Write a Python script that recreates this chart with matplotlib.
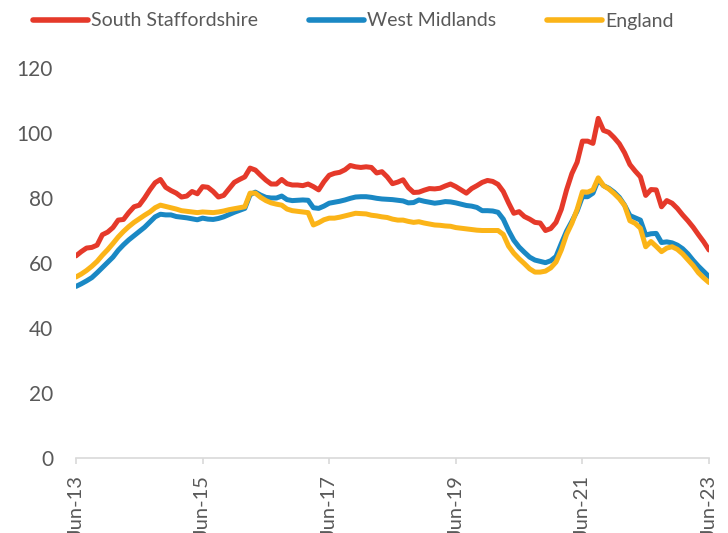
import numpy as np
import pandas as pd
import matplotlib
matplotlib.use('Agg')
from matplotlib import pyplot as plt

plt.rcParams['font.family'] = ['Lato', 'DejaVu Sans']

# monthly series, Jun-13 to Jun-23
months = pd.date_range("2013-06-01", periods=121, freq="MS")

south_staffs = [62.2, 63.5, 64.6, 64.8, 65.5, 68.7, 69.5, 70.9, 73.2, 73.4,
                75.5, 77.3, 77.8, 80.0, 82.5, 84.7, 85.7, 83.3, 82.3, 81.5,
                80.3, 80.6, 82.0, 81.3, 83.5, 83.3, 82.0, 80.3, 80.8, 82.8,
                84.8, 85.7, 86.5, 89.2, 88.6, 87.0, 85.5, 84.3, 84.3, 85.7,
                84.4, 84.0, 84.0, 83.8, 84.3, 83.5, 82.5, 85.0, 87.0, 87.6,
                87.9, 88.7, 90.0, 89.6, 89.4, 89.6, 89.4, 87.7, 88.1, 86.5,
                84.4, 84.9, 85.6, 83.2, 81.7, 81.8, 82.4, 82.9, 82.8, 83.0,
                83.7, 84.3, 83.5, 82.5, 81.5, 82.9, 83.8, 84.8, 85.4, 85.1,
                84.2, 82.0, 78.5, 75.3, 75.8, 74.3, 73.5, 72.5, 72.3, 70.0,
                70.6, 72.5, 76.5, 82.5, 87.5, 91.0, 97.5, 97.5, 96.8, 104.5,
                100.8, 100.2, 98.6, 96.7, 93.9, 90.3, 88.3, 86.5, 80.8, 82.6,
                82.5, 77.3, 79.2, 78.4, 76.8, 74.8, 73.0, 71.0, 68.7, 66.5,
                64.0]

west_midlands = [52.8, 53.6, 54.5, 55.5, 57.0, 58.6, 60.2, 61.8, 63.9, 65.6,
                 67.1, 68.4, 69.7, 71.0, 72.6, 74.2, 75.0, 74.8, 74.8, 74.3,
                 74.1, 73.9, 73.6, 73.3, 73.8, 73.5, 73.4, 73.7, 74.2, 74.9,
                 75.6, 76.2, 76.8, 81.0, 81.8, 80.9, 80.2, 80.0, 80.0, 80.6,
                 79.5, 79.2, 79.3, 79.4, 79.3, 77.0, 76.8, 77.5, 78.4, 78.7,
                 79.0, 79.4, 79.9, 80.3, 80.4, 80.4, 80.2, 79.9, 79.7, 79.6,
                 79.5, 79.3, 79.1, 78.5, 78.6, 79.4, 79.0, 78.7, 78.4, 78.6,
                 78.9, 78.8, 78.5, 78.1, 77.7, 77.5, 77.1, 76.1, 76.1, 76.0,
                 75.6, 73.5, 70.0, 67.0, 64.9, 63.3, 61.8, 60.9, 60.5, 60.1,
                 60.7, 62.0, 66.0, 69.8, 72.8, 76.0, 80.4, 80.4, 81.5, 85.6,
                 83.8, 83.0, 81.8, 80.2, 77.8, 74.6, 73.9, 73.2, 68.6, 69.0,
                 69.1, 66.3, 66.5, 66.2, 65.5, 64.4, 62.8, 60.8, 59.0, 57.4,
                 55.8]

england = [55.7, 56.6, 57.7, 59.0, 60.5, 62.4, 64.1, 66.0, 68.0, 69.7,
           71.2, 72.5, 73.6, 74.7, 75.7, 77.0, 77.8, 77.4, 77.0, 76.6,
           76.1, 75.9, 75.7, 75.5, 75.7, 75.6, 75.5, 75.7, 76.0, 76.4,
           76.7, 77.0, 77.3, 81.5, 81.5, 80.2, 79.2, 78.5, 78.1, 77.8,
           76.6, 76.1, 75.9, 75.7, 75.5, 71.7, 72.4, 73.3, 73.8, 73.8,
           74.1, 74.5, 74.9, 75.3, 75.2, 75.1, 74.7, 74.5, 74.2, 74.0,
           73.5, 73.2, 73.2, 72.8, 72.5, 72.7, 72.3, 72.0, 71.7, 71.6,
           71.4, 71.3, 70.9, 70.7, 70.5, 70.3, 70.1, 70.0, 70.0, 70.0,
           70.0, 68.8, 65.2, 63.0, 61.3, 59.8, 58.2, 57.2, 57.2, 57.5,
           58.5, 60.3, 64.0, 68.8, 72.2, 76.5, 81.9, 81.8, 82.5, 86.2,
           83.8, 82.8, 81.4, 79.8, 77.7, 73.0, 72.2, 70.7, 65.0, 66.6,
           65.1, 63.5, 64.6, 65.0, 64.2, 62.8, 61.0, 59.2, 57.0, 55.4,
           54.0]

tick_pos = [0, 24, 48, 72, 96, 120]
tick_labels = ["Jun-13", "Jun-15", "Jun-17", "Jun-19", "Jun-21", "Jun-23"]

fig = plt.figure(figsize=(7.28, 5.33), dpi=100)
ax = fig.add_axes([76/728, 1-458/533, 633/728, 390/533])

x = np.arange(len(months))
ax.plot(x, south_staffs, color="#E5392A", lw=3.6, label="South Staffordshire", solid_capstyle="round")
ax.plot(x, west_midlands, color="#1A88C4", lw=3.6, label="West Midlands", solid_capstyle="round")
ax.plot(x, england, color="#FBB418", lw=3.6, label="England", solid_capstyle="round")

ax.set_xlim(0, 120)
ax.set_ylim(0, 120)
ax.set_yticks(range(0, 121, 20))
ax.set_xticks(tick_pos)
ax.set_xticklabels(tick_labels, rotation=90)

for s in ["top", "right", "left"]:
    ax.spines[s].set_visible(False)
ax.spines["bottom"].set_color("#d9d9d9")
ax.spines["bottom"].set_linewidth(1.2)
ax.tick_params(axis="y", length=0, pad=16.5, labelsize=15, labelcolor="#595959")
ax.tick_params(axis="x", length=4.5, width=1.2, color="#d9d9d9", pad=8,
               labelsize=14.5, labelcolor="#595959")

leg = fig.legend(loc="center left", bbox_to_anchor=(33/728, 1-21/533), ncol=3, frameon=False,
                 fontsize=14, labelcolor="#595959", handlelength=2.85, handletextpad=0.15,
                 columnspacing=2.6, borderpad=0, borderaxespad=0)
for h in leg.get_lines():
    h.set_linewidth(4)

fig.savefig("out.png", dpi=100)
